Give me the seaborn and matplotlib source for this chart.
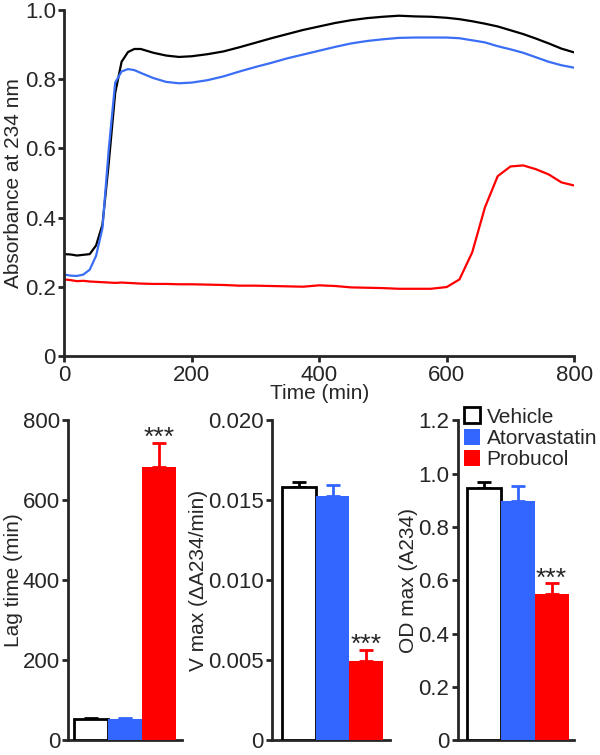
import numpy as np
import pandas as pd
import matplotlib
matplotlib.use("Agg")
import matplotlib.pyplot as plt
from matplotlib.patches import Patch
from matplotlib.ticker import FuncFormatter
import seaborn as sns

# oxidation kinetics (absorbance at 234 nm)
time_min = [0, 10, 20, 30, 40, 50, 60, 70, 80, 90, 100, 110, 120, 140, 160, 180, 200,
            225, 250, 275, 300, 325, 350, 375, 400, 425, 450, 475, 500, 525, 550, 575,
            600, 620, 640, 660, 680, 700, 720, 740, 760, 780, 800]
vehicle_abs = [0.295, 0.294, 0.291, 0.293, 0.295, 0.32, 0.38, 0.56, 0.76, 0.85, 0.878, 0.887,
               0.887, 0.876, 0.868, 0.864, 0.866, 0.872, 0.88, 0.892, 0.905, 0.918, 0.93,
               0.942, 0.952, 0.962, 0.97, 0.976, 0.98, 0.983, 0.981, 0.98, 0.977, 0.973,
               0.967, 0.96, 0.952, 0.941, 0.93, 0.917, 0.903, 0.888, 0.877]
atorva_abs = [0.236, 0.233, 0.232, 0.236, 0.25, 0.29, 0.37, 0.6, 0.79, 0.822, 0.829, 0.826,
              0.818, 0.803, 0.792, 0.788, 0.79, 0.797, 0.808, 0.822, 0.835, 0.847, 0.86,
              0.871, 0.882, 0.893, 0.903, 0.91, 0.915, 0.919, 0.92, 0.92, 0.92, 0.918,
              0.912, 0.906, 0.895, 0.886, 0.876, 0.863, 0.85, 0.84, 0.833]
probucol_abs = [0.222, 0.22, 0.217, 0.218, 0.216, 0.215, 0.214, 0.213, 0.212, 0.213, 0.212,
                0.211, 0.21, 0.209, 0.209, 0.208, 0.208, 0.207, 0.206, 0.204, 0.204, 0.203,
                0.202, 0.201, 0.205, 0.203, 0.199, 0.198, 0.197, 0.195, 0.195, 0.195, 0.2,
                0.222, 0.3, 0.43, 0.52, 0.548, 0.551, 0.54, 0.525, 0.502, 0.493]

# summary bars
groups = ["Vehicle", "Atorvastatin", "Probucol"]
lag_mean = [52, 52, 684]
lag_sem = [4, 3, 58]
vmax_mean = [0.01584, 0.01528, 0.00497]
vmax_sem = [0.0003, 0.0007, 0.0007]
odmax_mean = [0.947, 0.897, 0.548]
odmax_sem = [0.02, 0.055, 0.04]
signif = ["", "", "***"]

colors = {"Vehicle": "white", "Atorvastatin": "#3366ff", "Probucol": "#ff0000"}
line_colors = {"Vehicle": "black", "Atorvastatin": "#3a6ef5", "Probucol": "#ff0000"}
edge = {"Vehicle": "black", "Atorvastatin": "#3366ff", "Probucol": "#ff0000"}

sns.set_style("ticks")
plt.rcParams["font.family"] = ["Liberation Sans", "DejaVu Sans"]
plt.rcParams["font.size"] = 15
plt.rcParams["xtick.labelsize"] = 16
plt.rcParams["ytick.labelsize"] = 16
plt.rcParams["axes.linewidth"] = 2.0
plt.rcParams["xtick.major.width"] = 2.0
plt.rcParams["ytick.major.width"] = 2.0
plt.rcParams["xtick.major.size"] = 4
plt.rcParams["ytick.major.size"] = 4
plt.rcParams["xtick.major.pad"] = 2
plt.rcParams["ytick.major.pad"] = 2

fig = plt.figure(figsize=(6, 7.55), dpi=100)

# top kinetics panel
ax0 = fig.add_axes([0.107, 0.528, 0.85, 0.459])
kin = pd.DataFrame({
    "time": time_min * 3,
    "abs": vehicle_abs + atorva_abs + probucol_abs,
    "group": ["Vehicle"] * len(time_min) + ["Atorvastatin"] * len(time_min)
             + ["Probucol"] * len(time_min),
})
sns.lineplot(data=kin, x="time", y="abs", hue="group", palette=line_colors,
             linewidth=1.6, legend=False, ax=ax0)
ax0.set_xlim(0, 800)
ax0.set_ylim(0, 1.0)
ax0.set_xticks([0, 200, 400, 600, 800])
ax0.set_yticks([0, 0.2, 0.4, 0.6, 0.8, 1.0])
ax0.yaxis.set_major_formatter(FuncFormatter(lambda v, p: "0" if v == 0 else f"{v:.1f}"))
ax0.set_xlabel("Time (min)", labelpad=-1)
ax0.set_ylabel("Absorbance at 234 nm", labelpad=1)
sns.despine(ax=ax0)


def bar_panel(rect, means, sems, ylim, yticks, fmt, ylabel, xlim):
    ax = fig.add_axes(rect)
    df = pd.DataFrame({"group": groups, "val": means})
    sns.barplot(data=df, x="group", y="val", hue="group", palette=colors, saturation=1,
                width=1.0, errorbar=None, legend=False, ax=ax, zorder=3)
    for p, g in zip(ax.patches, groups):
        if g == "Vehicle":
            p.set_edgecolor("black")
            p.set_linewidth(2.0)
        else:
            p.set_edgecolor(colors[g])
            p.set_linewidth(0)
    for i, g in enumerate(groups):
        ax.errorbar(i, means[i], yerr=[[0], [sems[i]]], fmt="none",
                    ecolor=edge[g], elinewidth=2.0, capsize=5, capthick=2.0, zorder=2)
        if signif[i]:
            ax.annotate(signif[i], (i, means[i] + sems[i]), xytext=(0, -5),
                        textcoords="offset points", ha="center", va="bottom", fontsize=19)
    ax.set_ylim(*ylim)
    ax.set_yticks(yticks)
    ax.yaxis.set_major_formatter(FuncFormatter(fmt))
    ax.set_xlim(*xlim)
    ax.set_xticks([])
    ax.set_xlabel("")
    ax.set_ylabel(ylabel, labelpad=0)
    sns.despine(ax=ax)
    return ax


ax1 = bar_panel([0.114, 0.0195, 0.19, 0.424], lag_mean, lag_sem, (0, 800),
                [0, 200, 400, 600, 800], lambda v, p: f"{v:.0f}", "Lag time (min)",
                (-0.68, 2.7))
ax2 = bar_panel([0.453, 0.0195, 0.197, 0.424], vmax_mean, vmax_sem, (0, 0.02),
                [0, 0.005, 0.01, 0.015, 0.02],
                lambda v, p: "0" if v == 0 else f"{v:.3f}", "V max (ΔA234/min)",
                (-0.8, 2.7))
ax3 = bar_panel([0.763, 0.0195, 0.193, 0.424], odmax_mean, odmax_sem, (0, 1.2),
                [0, 0.2, 0.4, 0.6, 0.8, 1.0, 1.2],
                lambda v, p: "0" if v == 0 else f"{v:.1f}", "OD max (A234)",
                (-0.76, 2.65))

handles = [Patch(facecolor=colors[g], edgecolor=edge[g], linewidth=2.0 if g == "Vehicle" else 0)
           for g in groups]
ax3.legend(handles, groups, loc="upper left", bbox_to_anchor=(0.05, 1.04), frameon=False,
           handlelength=0.8, handleheight=0.8, handletextpad=0.3, labelspacing=0.1,
           borderpad=0, borderaxespad=0, fontsize=15)

fig.savefig("out.png", dpi=100)
